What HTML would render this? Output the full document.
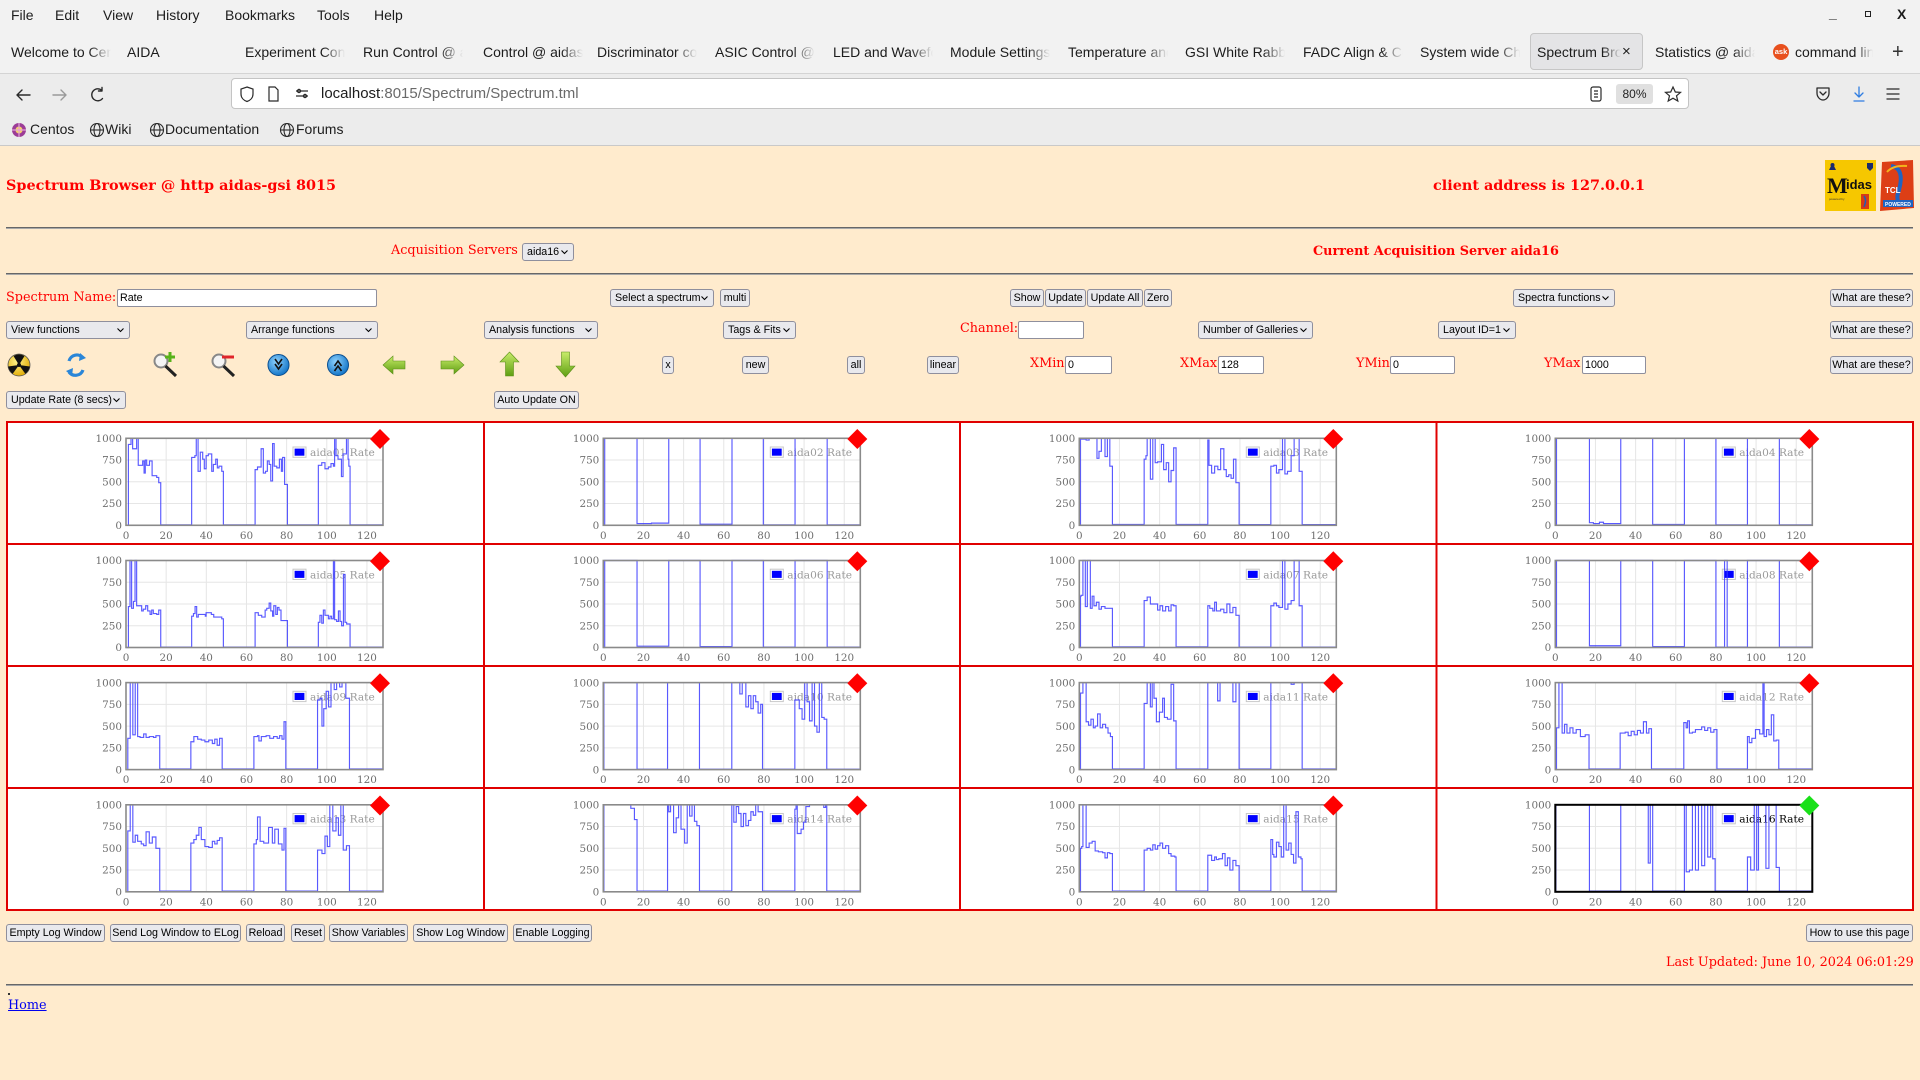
<!DOCTYPE html>
<html><head><meta charset="utf-8"><title>Spectrum Browser</title>
<style>
*{margin:0;padding:0}
html,body{width:1920px;height:1080px;overflow:hidden;background:#ffebcd}
body{position:relative;font-family:"Liberation Sans","DejaVu Sans",sans-serif}
.a{position:absolute;white-space:nowrap}
.ch{font:14px "Liberation Sans","DejaVu Sans",sans-serif;color:#1c1c1c;line-height:16px}
.tab{position:absolute;top:44px;width:100px;overflow:hidden;white-space:nowrap;font:14px "Liberation Sans",sans-serif;color:#1c1c1c;line-height:16px;-webkit-mask-image:linear-gradient(to right,#000 78%,transparent);mask-image:linear-gradient(to right,#000 78%,transparent)}
.t{position:absolute;white-space:nowrap;font:12.8px "DejaVu Serif","Liberation Serif",serif;color:#f00;line-height:16px}
.tb{font-weight:bold}
.b,.s,.i{position:absolute;box-sizing:border-box;height:18px;font:10.7px "Liberation Sans","DejaVu Sans",sans-serif;color:#000;line-height:16px;white-space:nowrap;overflow:hidden}
.b{background:#e9e9ed;border:1px solid #8f8f9d;border-radius:3px;text-align:center}
.s{background:#e9e9ed;border:1px solid #8f8f9d;border-radius:3px;text-align:left;padding-left:4px}
.s svg{position:absolute;right:5px;top:6px}
.i{background:#fff;border:1px solid #8f8f9d;border-radius:2px;padding-left:2px}
.hr{position:absolute;height:0;border-top:1px solid #676767;border-bottom:1px solid #a8a8a8}
svg text{font-family:"DejaVu Serif","Liberation Serif",serif}
.tk text{font-size:10.4px;fill:#6e6e6e;text-anchor:end}
.tx text{font-size:10.4px;fill:#6e6e6e;text-anchor:middle}
.lt{font-size:10.6px;fill:#9a9a9a}
.lb{fill:#fff;stroke:#c8c8c8;stroke-width:1}
.lf{fill:#0000ff}
.sr{fill:none;stroke:#3c3cff;stroke-opacity:.85;stroke-width:1.15;vector-effect:non-scaling-stroke}
.fr{fill:none;stroke:#8a8a8a;stroke-width:1.6}
.dm{fill:#ff0000}
</style></head><body>

<!-- ===== Browser chrome ===== -->
<div class="a" style="left:0;top:0;width:1920px;height:73px;background:#f2f2f2;border-bottom:1px solid #d4d4d4"></div>
<div class="a" style="left:0;top:74px;width:1920px;height:71px;background:#ececec;border-bottom:1px solid #c9c9c9"></div>

<div class="a ch" style="left:11px;top:7px">File</div>
<div class="a ch" style="left:55px;top:7px">Edit</div>
<div class="a ch" style="left:103px;top:7px">View</div>
<div class="a ch" style="left:156px;top:7px">History</div>
<div class="a ch" style="left:225px;top:7px">Bookmarks</div>
<div class="a ch" style="left:317px;top:7px">Tools</div>
<div class="a ch" style="left:374px;top:7px">Help</div>
<div class="a ch" style="left:1829px;top:5px;font-weight:bold">_</div>
<div class="a" style="left:1865px;top:11px;width:6px;height:6px;border:1.5px solid #222;box-sizing:border-box"></div>
<div class="a ch" style="left:1897px;top:6px;font-weight:bold">X</div>

<!-- tabs -->
<div class="a" style="left:1530px;top:33px;width:113px;height:37px;background:#e4e4e6;border:1px solid #c6c6c6;border-radius:4px;box-sizing:border-box"></div>
<div class="tab" style="left:11px">Welcome to CentOS</div>
<div class="tab" style="left:127px">AIDA</div>
<div class="tab" style="left:245px">Experiment Control</div>
<div class="tab" style="left:363px">Run Control @ aida</div>
<div class="tab" style="left:483px">Control @ aidas-gsi</div>
<div class="tab" style="left:597px">Discriminator control</div>
<div class="tab" style="left:715px">ASIC Control @ aida</div>
<div class="tab" style="left:833px">LED and Waveform</div>
<div class="tab" style="left:950px">Module Settings</div>
<div class="tab" style="left:1068px">Temperature and</div>
<div class="tab" style="left:1185px">GSI White Rabbit</div>
<div class="tab" style="left:1303px">FADC Align &amp; Control</div>
<div class="tab" style="left:1420px">System wide Checks</div>
<div class="tab" style="left:1537px;width:84px">Spectrum Browser</div>
<div class="a ch" style="left:1622px;top:44px;font-size:15px">×</div>
<div class="tab" style="left:1655px">Statistics @ aidas</div>
<div class="a" style="left:1773px;top:44px;width:16px;height:16px;border-radius:50%;background:#e8501e;color:#fff;font:bold 7.5px 'Liberation Sans',sans-serif;line-height:16px;text-align:center">ask</div>
<div class="tab" style="left:1795px;width:78px">command line</div>
<div class="a ch" style="left:1892px;top:41px;font-size:20px;line-height:22px;color:#333">+</div>

<!-- nav bar -->
<svg class="a" style="left:14px;top:86px" width="100" height="18" viewBox="0 0 100 18">
<g fill="none" stroke="#2a2a2a" stroke-width="1.4" stroke-linecap="round" stroke-linejoin="round">
<path d="M3 9H16M8 4L3 9L8 14"/>
<path d="M39 9H52M47 4L52 9L47 14" stroke="#9a9a9a"/>
<path d="M88 4.5A6 6 0 1 0 88.5 12.5M88 1.5V5H84.5"/>
</g></svg>
<div class="a" style="left:231px;top:78px;width:1458px;height:31px;background:#fff;border:1px solid #c4c4c4;border-radius:4px;box-sizing:border-box"></div>
<svg class="a" style="left:240px;top:85px" width="75" height="18" viewBox="0 0 75 18">
<g fill="none" stroke="#2a2a2a" stroke-width="1.2">
<path d="M7 2L13 4V9C13 13 10 15.5 7 16.5C4 15.5 1 13 1 9V4Z"/>
<path d="M29 2H35L38 5V16H29Z"/>
<path d="M56 6H68M56 11H68"/><circle cx="59" cy="6" r="1.6"/><circle cx="65" cy="11" r="1.6"/>
</g></svg>
<div class="a" style="left:321px;top:85px;font:15px 'Liberation Sans',sans-serif;line-height:18px;color:#1c1c1c">localhost<span style="color:#6a6a6a">:8015/Spectrum/Spectrum.tml</span></div>
<svg class="a" style="left:1589px;top:85px" width="100" height="18" viewBox="0 0 100 18">
<g fill="none" stroke="#2a2a2a" stroke-width="1.2"><rect x="2" y="2" width="10" height="14" rx="2"/><path d="M5 6H9M5 9H9M5 12H9"/>
<path d="M84 2L86.3 7L91.5 7.4L87.5 10.8L88.8 16L84 13.2L79.2 16L80.5 10.8L76.5 7.4L81.7 7Z"/></g></svg>
<div class="a" style="left:1616px;top:84px;width:37px;height:20px;background:#e0e0e0;border-radius:3px;font:12px 'Liberation Sans',sans-serif;line-height:20px;text-align:center;color:#222">80%</div>
<svg class="a" style="left:1813px;top:84px" width="95" height="20" viewBox="0 0 95 20">
<g fill="none" stroke-width="1.3" stroke-linejoin="round" stroke-linecap="round">
<path d="M4 4H16V9C16 13 13 16 10 16C7 16 4 13 4 9Z" stroke="#2a2a2a"/><path d="M7 8L10 11L13 8" stroke="#2a2a2a"/>
<path d="M46 3V13M42 9L46 13L50 9M41 17H51" stroke="#2f7de1"/>
<path d="M74 5H86M74 10H86M74 15H86" stroke="#2a2a2a"/>
</g></svg>

<!-- bookmarks -->
<svg class="a" style="left:11px;top:122px" width="16" height="16" viewBox="0 0 16 16"><circle cx="8" cy="8" r="7" fill="#9c3d97"/><circle cx="8" cy="8" r="3.5" fill="#f6d36b"/><path d="M8 1V15M1 8H15" stroke="#e2a2d8" stroke-width="1.2"/></svg>
<div class="a ch" style="left:30px;top:121px">Centos</div>
<svg class="a" style="left:89px;top:122px" width="16" height="16" viewBox="0 0 16 16"><g fill="none" stroke="#2a2a2a" stroke-width="1.1"><circle cx="8" cy="8" r="6.5"/><ellipse cx="8" cy="8" rx="3" ry="6.5"/><path d="M1.5 8H14.5"/></g></svg>
<div class="a ch" style="left:105px;top:121px">Wiki</div>
<svg class="a" style="left:149px;top:122px" width="16" height="16" viewBox="0 0 16 16"><g fill="none" stroke="#2a2a2a" stroke-width="1.1"><circle cx="8" cy="8" r="6.5"/><ellipse cx="8" cy="8" rx="3" ry="6.5"/><path d="M1.5 8H14.5"/></g></svg>
<div class="a ch" style="left:165px;top:121px">Documentation</div>
<svg class="a" style="left:279px;top:122px" width="16" height="16" viewBox="0 0 16 16"><g fill="none" stroke="#2a2a2a" stroke-width="1.1"><circle cx="8" cy="8" r="6.5"/><ellipse cx="8" cy="8" rx="3" ry="6.5"/><path d="M1.5 8H14.5"/></g></svg>
<div class="a ch" style="left:296px;top:121px">Forums</div>

<!-- ===== Page header ===== -->
<div class="t tb" style="left:6px;top:176px;font-size:14.4px;line-height:20px">Spectrum Browser @ http aidas-gsi 8015</div>
<div class="t tb" style="left:1433px;top:176px;font-size:14.4px;line-height:20px">client address is 127.0.0.1</div>

<svg class="a" style="left:1825px;top:160px" width="90" height="52" viewBox="0 0 90 52">
<rect x="0" y="0" width="51" height="51" fill="#f6c700"/>
<path d="M4 10L7.5 3L11 10Z" fill="#1b2a6b"/><circle cx="7.5" cy="5" r="2" fill="#1b2a6b"/>
<path d="M42 3H48V8L45 11L42 8Z" fill="#1b2a6b"/>
<text x="2" y="33" style="font:bold 22px 'Liberation Serif',serif;fill:#111">M</text>
<text x="21" y="29" style="font:bold 13px 'Liberation Sans',sans-serif;fill:#111">idas</text>
<text x="4" y="40" style="font:3px 'Liberation Sans',sans-serif;fill:#333">powered by</text>
<rect x="36" y="34" width="8" height="15" fill="#d83a14"/><path d="M39 36Q42 40 39 47" stroke="#1f5fb4" stroke-width="1.5" fill="none"/>
<path d="M57 2L88 0L89 48L55 51Z" fill="#dd3f16"/>
<path d="M66 6Q80 8 74 30Q70 40 76 46" stroke="#1f64c2" stroke-width="4" fill="none"/>
<path d="M62 12Q68 5 82 6" stroke="#f3b21c" stroke-width="2" fill="none"/>
<text x="60" y="33" style="font:bold 8px 'Liberation Sans',sans-serif;fill:#fff">TCL</text>
<rect x="58" y="40" width="30" height="7" fill="#1f64c2"/>
<text x="60" y="46" style="font:bold 5px 'Liberation Sans',sans-serif;fill:#fff">POWERED</text>
</svg>

<div class="hr" style="left:6px;top:227px;width:1907px"></div>

<div class="t" style="left:391px;top:243px">Acquisition Servers</div>
<div class="s" style="left:522px;top:243px;width:52px">aida16<svg width="7" height="5"><path d="M0.5 0.5L3.5 3.5L6.5 0.5" fill="none" stroke="#000" stroke-width="1.1"/></svg></div>
<div class="t tb" style="left:1313px;top:244px">Current Acquisition Server aida16</div>

<div class="hr" style="left:6px;top:273px;width:1907px"></div>

<!-- Row A -->
<div class="t" style="left:6px;top:290px">Spectrum Name:</div>
<div class="i" style="left:117px;top:289px;width:260px">Rate</div>
<div class="s" style="left:610px;top:289px;width:104px">Select a spectrum<svg width="7" height="5"><path d="M0.5 0.5L3.5 3.5L6.5 0.5" fill="none" stroke="#000" stroke-width="1.1"/></svg></div>
<div class="b" style="left:720px;top:289px;width:30px">multi</div>
<div class="b" style="left:1010px;top:289px;width:34px">Show</div>
<div class="b" style="left:1045px;top:289px;width:41px">Update</div>
<div class="b" style="left:1087px;top:289px;width:56px">Update All</div>
<div class="b" style="left:1144px;top:289px;width:28px">Zero</div>
<div class="s" style="left:1513px;top:289px;width:102px">Spectra functions<svg width="7" height="5"><path d="M0.5 0.5L3.5 3.5L6.5 0.5" fill="none" stroke="#000" stroke-width="1.1"/></svg></div>
<div class="b" style="left:1830px;top:289px;width:83px">What are these?</div>

<!-- Row B -->
<div class="s" style="left:6px;top:321px;width:124px">View functions<svg width="7" height="5"><path d="M0.5 0.5L3.5 3.5L6.5 0.5" fill="none" stroke="#000" stroke-width="1.1"/></svg></div>
<div class="s" style="left:246px;top:321px;width:132px">Arrange functions<svg width="7" height="5"><path d="M0.5 0.5L3.5 3.5L6.5 0.5" fill="none" stroke="#000" stroke-width="1.1"/></svg></div>
<div class="s" style="left:484px;top:321px;width:114px">Analysis functions<svg width="7" height="5"><path d="M0.5 0.5L3.5 3.5L6.5 0.5" fill="none" stroke="#000" stroke-width="1.1"/></svg></div>
<div class="s" style="left:723px;top:321px;width:73px">Tags &amp; Fits<svg width="7" height="5"><path d="M0.5 0.5L3.5 3.5L6.5 0.5" fill="none" stroke="#000" stroke-width="1.1"/></svg></div>
<div class="t" style="left:960px;top:321px">Channel:</div>
<div class="i" style="left:1018px;top:321px;width:66px"></div>
<div class="s" style="left:1198px;top:321px;width:115px">Number of Galleries<svg width="7" height="5"><path d="M0.5 0.5L3.5 3.5L6.5 0.5" fill="none" stroke="#000" stroke-width="1.1"/></svg></div>
<div class="s" style="left:1438px;top:321px;width:78px">Layout ID=1<svg width="7" height="5"><path d="M0.5 0.5L3.5 3.5L6.5 0.5" fill="none" stroke="#000" stroke-width="1.1"/></svg></div>
<div class="b" style="left:1830px;top:321px;width:83px">What are these?</div>

<!-- Row C icons -->
<svg class="a" style="left:0;top:350px" width="600" height="30" viewBox="0 350 600 30">
<defs>
<radialGradient id="gy" cx=".4" cy=".35" r=".7"><stop offset="0" stop-color="#fff38a"/><stop offset="1" stop-color="#e0a800"/></radialGradient>
<radialGradient id="gb" cx=".4" cy=".35" r=".7"><stop offset="0" stop-color="#8fd3ff"/><stop offset="1" stop-color="#0b6fc4"/></radialGradient>
<linearGradient id="gg" x1="0" y1="0" x2="0" y2="1"><stop offset="0" stop-color="#c8ec6a"/><stop offset="1" stop-color="#5f9e12"/></linearGradient>
</defs>
<circle cx="19" cy="365" r="11" fill="url(#gy)" stroke="#555" stroke-width=".8"/>
<g fill="#111"><circle cx="19" cy="365" r="2"/><path d="M19 365L13.5 356A11 11 0 0 1 24.5 356Z"/><path d="M19 365L29.5 368A11 11 0 0 1 24 374.5Z" transform="rotate(-8 19 365)"/><path d="M19 365L14 374.5A11 11 0 0 1 8.5 368Z" transform="rotate(8 19 365)"/></g>
<g fill="none" stroke="#2a86d8" stroke-width="3.2"><path d="M69 361A8 8 0 0 1 83 358"/><path d="M83 370A8 8 0 0 1 69 372"/></g>
<path d="M80 353L86 358L79 361Z" fill="#2a86d8"/><path d="M72 376L66 371L73 368Z" fill="#2a86d8"/>
<circle cx="161" cy="361" r="6.5" fill="#f4f4f4" stroke="#888" stroke-width="2"/><path d="M165.5 366L176 376" stroke="#222" stroke-width="3"/>
<path d="M170 352V362M165 357H175" stroke="#57b21a" stroke-width="3"/>
<circle cx="219" cy="361" r="6.5" fill="#f4f4f4" stroke="#888" stroke-width="2"/><path d="M223.5 366L234 376" stroke="#222" stroke-width="3"/>
<path d="M222 357H234" stroke="#e0242a" stroke-width="3"/>
<circle cx="278.5" cy="365" r="10.5" fill="url(#gb)" stroke="#0a4e8f" stroke-width="1"/>
<path d="M275 359L278.5 364L282 359M275 364L278.5 369L282 364" fill="none" stroke="#111" stroke-width="1.6"/>
<circle cx="338" cy="365" r="10.5" fill="url(#gb)" stroke="#0a4e8f" stroke-width="1"/>
<path d="M334.5 366L338 361L341.5 366M334.5 371L338 366L341.5 371" fill="none" stroke="#111" stroke-width="1.6"/>
<path d="M383 365L393 356V361H405V369H393V374Z" fill="url(#gg)" stroke="#5b8f1a" stroke-width=".6"/>
<path d="M464 365L454 356V361H441V369H454V374Z" fill="url(#gg)" stroke="#5b8f1a" stroke-width=".6"/>
<path d="M509.5 352L519 362H513.5V376H505.5V362H500Z" fill="url(#gg)" stroke="#5b8f1a" stroke-width=".6"/>
<path d="M565.5 377L575 366H569.5V352H561.5V366H556Z" fill="url(#gg)" stroke="#5b8f1a" stroke-width=".6"/>
</svg>
<div class="b" style="left:662px;top:356px;width:12px">x</div>
<div class="b" style="left:742px;top:356px;width:27px">new</div>
<div class="b" style="left:847px;top:356px;width:18px">all</div>
<div class="b" style="left:927px;top:356px;width:32px">linear</div>
<div class="t" style="left:1030px;top:356px">XMin</div>
<div class="i" style="left:1065px;top:356px;width:47px">0</div>
<div class="t" style="left:1180px;top:356px">XMax</div>
<div class="i" style="left:1218px;top:356px;width:46px">128</div>
<div class="t" style="left:1356px;top:356px">YMin</div>
<div class="i" style="left:1390px;top:356px;width:65px">0</div>
<div class="t" style="left:1544px;top:356px">YMax</div>
<div class="i" style="left:1582px;top:356px;width:64px">1000</div>
<div class="b" style="left:1830px;top:356px;width:83px">What are these?</div>

<!-- Row D -->
<div class="s" style="left:6px;top:391px;width:120px">Update Rate (8 secs)<svg width="7" height="5"><path d="M0.5 0.5L3.5 3.5L6.5 0.5" fill="none" stroke="#000" stroke-width="1.1"/></svg></div>
<div class="b" style="left:494px;top:391px;width:85px">Auto Update ON</div>

<!-- ===== Charts ===== -->
<svg class="a" style="left:0;top:0" width="1920" height="1080" viewBox="0 0 1920 1080">
<defs>
<clipPath id="pc"><rect x="0" y="-1" width="257" height="89"/></clipPath>
<g id="grid"><path d="M40.16 0V87M80.31 0V87M120.47 0V87M160.63 0V87M200.78 0V87M240.94 0V87M0 21.75H257M0 43.5H257M0 65.25H257" stroke="#e6e6e6" stroke-width="1" fill="none"/></g>
</defs>
<rect x="7" y="422" width="1906" height="488" fill="#fff"/>
<g fill="#e00000">
<rect x="6" y="421" width="1908" height="2"/><rect x="6" y="543" width="1908" height="2"/><rect x="6" y="665" width="1908" height="2"/><rect x="6" y="787" width="1908" height="2"/><rect x="6" y="909" width="1908" height="2"/>
<rect x="6" y="421" width="2" height="490"/><rect x="483" y="421" width="2" height="490"/><rect x="959" y="421" width="2" height="490"/><rect x="1435.5" y="421" width="2" height="490"/><rect x="1912" y="421" width="2" height="490"/>
</g>

<!-- aida01 -->
<g transform="translate(126,438.3)">
<use href="#grid"/>
<g class="tk"><text x="-4" y="3.7">1000</text><text x="-4" y="25.45">750</text><text x="-4" y="47.2">500</text><text x="-4" y="68.95">250</text><text x="-4" y="90.7">0</text></g>
<g class="tx"><text x="0" y="100.5">0</text><text x="40.16" y="100.5">20</text><text x="80.31" y="100.5">40</text><text x="120.47" y="100.5">60</text><text x="160.63" y="100.5">80</text><text x="200.78" y="100.5">100</text><text x="240.94" y="100.5">120</text></g>
<rect class="lb" x="167" y="8.7" width="13" height="10.3"/><rect class="lf" x="168.6" y="10.3" width="9.8" height="7.1"/><text class="lt" x="184" y="17.8">aida01 Rate</text>
<g clip-path="url(#pc)"><path class="sr" transform="translate(0,87) scale(2.0078,-0.087)" d="M0 0H1.2V930H2.5V1000H3.3V880H5.3V1000H6.1V690H8.3V740H9V600H9.6V750H10.3V690H11.7V740H13V570H15.3V550H16.3V490H17.3V5H32.7V780H34.3V800H35V1000H35.9V620H37V840H38.2V760H39V650H39.9V800H41V820H42.7V620H43.5V700H44.7V760H45.5V660H46.3V680H47.7V620H48.5V5H64.3V640H65.5V670H67.3V880H68.4V600H69.5V620H70.4V740H71.3V700H72.1V510H73V940H73.8V680H75.1V660H76.4V760H77.4V620H78V780H79V470H80.4V5H95.8V690H97.5V720H99.1V650H100.8V670H102.1V710H103.3V680H103.9V1000H104.6V800H105.6V760H107.3V560H108.1V820H109.8V1000H110.6V760H111V680H111.6V5H128"/></g>
<rect class="fr" x="0" y="0" width="257" height="87"/>
<path class="dm" d="M254 -9.3L264 0.7L254 10.7L244 0.7Z"/>
</g>

<!-- aida02 -->
<g transform="translate(603.3,438.3)">
<use href="#grid"/>
<g class="tk"><text x="-4" y="3.7">1000</text><text x="-4" y="25.45">750</text><text x="-4" y="47.2">500</text><text x="-4" y="68.95">250</text><text x="-4" y="90.7">0</text></g>
<g class="tx"><text x="0" y="100.5">0</text><text x="40.16" y="100.5">20</text><text x="80.31" y="100.5">40</text><text x="120.47" y="100.5">60</text><text x="160.63" y="100.5">80</text><text x="200.78" y="100.5">100</text><text x="240.94" y="100.5">120</text></g>
<rect class="lb" x="167" y="8.7" width="13" height="10.3"/><rect class="lf" x="168.6" y="10.3" width="9.8" height="7.1"/><text class="lt" x="184" y="17.8">aida02 Rate</text>
<g clip-path="url(#pc)"><path class="sr" transform="translate(0,87) scale(2.0078,-0.087)" d="M0 0H0.7V1000H16.8V20H24V25H32.6V1000H48.2V12H64.1V1000H79.7V5H95.5V1000H111.5V5H128"/></g>
<rect class="fr" x="0" y="0" width="257" height="87"/>
<path class="dm" d="M254 -9.3L264 0.7L254 10.7L244 0.7Z"/>
</g>

<!-- aida03 -->
<g transform="translate(1079.3,438.3)">
<use href="#grid"/>
<g class="tk"><text x="-4" y="3.7">1000</text><text x="-4" y="25.45">750</text><text x="-4" y="47.2">500</text><text x="-4" y="68.95">250</text><text x="-4" y="90.7">0</text></g>
<g class="tx"><text x="0" y="100.5">0</text><text x="40.16" y="100.5">20</text><text x="80.31" y="100.5">40</text><text x="120.47" y="100.5">60</text><text x="160.63" y="100.5">80</text><text x="200.78" y="100.5">100</text><text x="240.94" y="100.5">120</text></g>
<rect class="lb" x="167" y="8.7" width="13" height="10.3"/><rect class="lf" x="168.6" y="10.3" width="9.8" height="7.1"/><text class="lt" x="184" y="17.8">aida03 Rate</text>
<g clip-path="url(#pc)"><path class="sr" transform="translate(0,87) scale(2.0078,-0.087)" d="M0 0H0.6V990H3.4V980H4.9V1000H8.8V770H9.8V850H11V1000H12.8V790H14V1000H15.2V680H16.5V10H32.3V760H33.2V800H33.8V1000H35.4V530H36.6V1000H37.8V720H39V730H40.9V930H42V640H43.3V720H44.5V500H45.7V630H47V890H48.2V10H64V980H64.6V690H65.9V600H67.4V680H69V640H70.4V880H72V640H73.2V560H74.4V580H75.6V540H76.8V760H78V490H79.6V8H95.4V680H96.9V690H98.2V600H99.4V640H101.2V1000H102.4V590H103.7V620H105.5V800H107V1000H109.5V620H111V8H128"/></g>
<rect class="fr" x="0" y="0" width="257" height="87"/>
<path class="dm" d="M254 -9.3L264 0.7L254 10.7L244 0.7Z"/>
</g>

<!-- aida04 -->
<g transform="translate(1555.3,438.3)">
<use href="#grid"/>
<g class="tk"><text x="-4" y="3.7">1000</text><text x="-4" y="25.45">750</text><text x="-4" y="47.2">500</text><text x="-4" y="68.95">250</text><text x="-4" y="90.7">0</text></g>
<g class="tx"><text x="0" y="100.5">0</text><text x="40.16" y="100.5">20</text><text x="80.31" y="100.5">40</text><text x="120.47" y="100.5">60</text><text x="160.63" y="100.5">80</text><text x="200.78" y="100.5">100</text><text x="240.94" y="100.5">120</text></g>
<rect class="lb" x="167" y="8.7" width="13" height="10.3"/><rect class="lf" x="168.6" y="10.3" width="9.8" height="7.1"/><text class="lt" x="184" y="17.8">aida04 Rate</text>
<g clip-path="url(#pc)"><path class="sr" transform="translate(0,87) scale(2.0078,-0.087)" d="M0 0H0.6V1000H17V30H19V20H22V35H24V20H32.6V1000H48.5V10H64.3V1000H80V5H95.7V1000H111.6V5H128"/></g>
<rect class="fr" x="0" y="0" width="257" height="87"/>
<path class="dm" d="M254 -9.3L264 0.7L254 10.7L244 0.7Z"/>
</g>

<!-- aida05 -->
<g transform="translate(126,560.5)">
<use href="#grid"/>
<g class="tk"><text x="-4" y="3.7">1000</text><text x="-4" y="25.45">750</text><text x="-4" y="47.2">500</text><text x="-4" y="68.95">250</text><text x="-4" y="90.7">0</text></g>
<g class="tx"><text x="0" y="100.5">0</text><text x="40.16" y="100.5">20</text><text x="80.31" y="100.5">40</text><text x="120.47" y="100.5">60</text><text x="160.63" y="100.5">80</text><text x="200.78" y="100.5">100</text><text x="240.94" y="100.5">120</text></g>
<rect class="lb" x="167" y="8.7" width="13" height="10.3"/><rect class="lf" x="168.6" y="10.3" width="9.8" height="7.1"/><text class="lt" x="184" y="17.8">aida05 Rate</text>
<g clip-path="url(#pc)"><path class="sr" transform="translate(0,87) scale(2.0078,-0.087)" d="M0 0H1.2V470H2V1000H2.8V450H3.7V530H4.5V1000H5.3V480H7.8V420H8.6V440H9.8V480H10.8V420H12V380H12.8V430H13.6V390H15.3V380H16.3V430H17.3V5H32.7V360H33.6V390H34.4V470H35.2V350H36V380H39.5V360H39.9V400H42.5V380H43.7V350H47.7V330H48.5V5H64.3V400H65.9V370H67.6V350H69.3V430H70.1V450H71.3V510H72.1V420H73V360H73.6V480H74.6V380H75.4V460H76.2V430H77.2V310H80.4V5H95.8V290H96.6V370H97.5V280H98.3V430H99.1V370H100.8V330H101.6V360H102.4V330H103.3V1000H103.9V320H104.9V300H105.8V420H106.6V300H107.4V250H108.3V840H109.1V290H109.9V270H111.6V5H128"/></g>
<rect class="fr" x="0" y="0" width="257" height="87"/>
<path class="dm" d="M254 -9.3L264 0.7L254 10.7L244 0.7Z"/>
</g>

<!-- aida06 -->
<g transform="translate(603.3,560.5)">
<use href="#grid"/>
<g class="tk"><text x="-4" y="3.7">1000</text><text x="-4" y="25.45">750</text><text x="-4" y="47.2">500</text><text x="-4" y="68.95">250</text><text x="-4" y="90.7">0</text></g>
<g class="tx"><text x="0" y="100.5">0</text><text x="40.16" y="100.5">20</text><text x="80.31" y="100.5">40</text><text x="120.47" y="100.5">60</text><text x="160.63" y="100.5">80</text><text x="200.78" y="100.5">100</text><text x="240.94" y="100.5">120</text></g>
<rect class="lb" x="167" y="8.7" width="13" height="10.3"/><rect class="lf" x="168.6" y="10.3" width="9.8" height="7.1"/><text class="lt" x="184" y="17.8">aida06 Rate</text>
<g clip-path="url(#pc)"><path class="sr" transform="translate(0,87) scale(2.0078,-0.087)" d="M0 0H0.7V1000H16.8V15H32.6V1000H48.2V10H64.1V1000H79.7V5H95.5V1000H111.5V5H128"/></g>
<rect class="fr" x="0" y="0" width="257" height="87"/>
<path class="dm" d="M254 -9.3L264 0.7L254 10.7L244 0.7Z"/>
</g>

<!-- aida07 -->
<g transform="translate(1079.3,560.5)">
<use href="#grid"/>
<g class="tk"><text x="-4" y="3.7">1000</text><text x="-4" y="25.45">750</text><text x="-4" y="47.2">500</text><text x="-4" y="68.95">250</text><text x="-4" y="90.7">0</text></g>
<g class="tx"><text x="0" y="100.5">0</text><text x="40.16" y="100.5">20</text><text x="80.31" y="100.5">40</text><text x="120.47" y="100.5">60</text><text x="160.63" y="100.5">80</text><text x="200.78" y="100.5">100</text><text x="240.94" y="100.5">120</text></g>
<rect class="lb" x="167" y="8.7" width="13" height="10.3"/><rect class="lf" x="168.6" y="10.3" width="9.8" height="7.1"/><text class="lt" x="184" y="17.8">aida07 Rate</text>
<g clip-path="url(#pc)"><path class="sr" transform="translate(0,87) scale(2.0078,-0.087)" d="M0 0H0.6V590H0.9V600H1.8V1000H3V470H4V1000H5.5V450H6.4V590H7.3V480H8.5V520H9.8V440H11V470H12.8V450H16.5V8H32.3V540H33.8V580H35.4V500H39V430H40.2V480H41.5V420H43V470H44.5V420H45.7V490H47V480H48.2V8H64V480H65V450H66.5V420H67.4V520H68.3V420H70.4V440H72V400H73.5V500H75V400H76.5V460H78V370H79.6V5H95.4V480H96.9V510H98.2V480H99.4V460H101.2V1000H102.4V440H103.9V500H105.5V540H107V1000H109.5V480H111V5H128"/></g>
<rect class="fr" x="0" y="0" width="257" height="87"/>
<path class="dm" d="M254 -9.3L264 0.7L254 10.7L244 0.7Z"/>
</g>

<!-- aida08 -->
<g transform="translate(1555.3,560.5)">
<use href="#grid"/>
<g class="tk"><text x="-4" y="3.7">1000</text><text x="-4" y="25.45">750</text><text x="-4" y="47.2">500</text><text x="-4" y="68.95">250</text><text x="-4" y="90.7">0</text></g>
<g class="tx"><text x="0" y="100.5">0</text><text x="40.16" y="100.5">20</text><text x="80.31" y="100.5">40</text><text x="120.47" y="100.5">60</text><text x="160.63" y="100.5">80</text><text x="200.78" y="100.5">100</text><text x="240.94" y="100.5">120</text></g>
<rect class="lb" x="167" y="8.7" width="13" height="10.3"/><rect class="lf" x="168.6" y="10.3" width="9.8" height="7.1"/><text class="lt" x="184" y="17.8">aida08 Rate</text>
<g clip-path="url(#pc)"><path class="sr" transform="translate(0,87) scale(2.0078,-0.087)" d="M0 0H0.6V1000H17V20H32.6V1000H48.5V10H64.3V1000H80V5H84.3V1000H85.6V5H95.7V1000H111.6V5H128"/></g>
<rect class="fr" x="0" y="0" width="257" height="87"/>
<path class="dm" d="M254 -9.3L264 0.7L254 10.7L244 0.7Z"/>
</g>

<!-- aida09 -->
<g transform="translate(126,682.6)">
<use href="#grid"/>
<g class="tk"><text x="-4" y="3.7">1000</text><text x="-4" y="25.45">750</text><text x="-4" y="47.2">500</text><text x="-4" y="68.95">250</text><text x="-4" y="90.7">0</text></g>
<g class="tx"><text x="0" y="100.5">0</text><text x="40.16" y="100.5">20</text><text x="80.31" y="100.5">40</text><text x="120.47" y="100.5">60</text><text x="160.63" y="100.5">80</text><text x="200.78" y="100.5">100</text><text x="240.94" y="100.5">120</text></g>
<rect class="lb" x="167" y="8.7" width="13" height="10.3"/><rect class="lf" x="168.6" y="10.3" width="9.8" height="7.1"/><text class="lt" x="184" y="17.8">aida09 Rate</text>
<g clip-path="url(#pc)"><path class="sr" transform="translate(0,87) scale(2.0078,-0.087)" d="M0 0H0.9V360H2.1V1000H3.4V400H4.6V1000H5.8V380H7V370H8.8V410H10V370H11.6V380H13.7V370H14.9V390H16.8V8H32.3V320H33.8V380H35.7V350H37.5V340H39.3V320H41.2V340H43V300H44.2V350H45.4V280H46.6V360H47.9V8H63.7V380H65.5V390H66.2V330H67.4V380H69.8V390H71.6V360H73.5V380H75.3V360H76.5V390H77.7V350H78.7V550H79.6V8H95.4V800H96.6V820H97.6V500H98.5V700H99.7V900H100.9V720H102.1V1000H103.7V920H104.9V1000H106.4V950H107.6V1000H109.5V820H111.3V8H128"/></g>
<rect class="fr" x="0" y="0" width="257" height="87"/>
<path class="dm" d="M254 -9.3L264 0.7L254 10.7L244 0.7Z"/>
</g>

<!-- aida10 -->
<g transform="translate(603.3,682.6)">
<use href="#grid"/>
<g class="tk"><text x="-4" y="3.7">1000</text><text x="-4" y="25.45">750</text><text x="-4" y="47.2">500</text><text x="-4" y="68.95">250</text><text x="-4" y="90.7">0</text></g>
<g class="tx"><text x="0" y="100.5">0</text><text x="40.16" y="100.5">20</text><text x="80.31" y="100.5">40</text><text x="120.47" y="100.5">60</text><text x="160.63" y="100.5">80</text><text x="200.78" y="100.5">100</text><text x="240.94" y="100.5">120</text></g>
<rect class="lb" x="167" y="8.7" width="13" height="10.3"/><rect class="lf" x="168.6" y="10.3" width="9.8" height="7.1"/><text class="lt" x="184" y="17.8">aida10 Rate</text>
<g clip-path="url(#pc)"><path class="sr" transform="translate(0,87) scale(2.0078,-0.087)" d="M0 0H0.3V1000H16.8V5H32V1000H47.9V5H64V1000H68V870H69.2V1000H71V720H72.3V850H73.5V700H74.7V850H75.9V780H77.1V650H78.4V750H79.3V5H95.4V800H97.6V700H99V580H100.3V1000H101.5V780H102.7V560H104V1000H105.2V500H106.4V430H107.6V1000H108.8V600H110V580H111.3V5H128"/></g>
<rect class="fr" x="0" y="0" width="257" height="87"/>
<path class="dm" d="M254 -9.3L264 0.7L254 10.7L244 0.7Z"/>
</g>

<!-- aida11 -->
<g transform="translate(1079.3,682.6)">
<use href="#grid"/>
<g class="tk"><text x="-4" y="3.7">1000</text><text x="-4" y="25.45">750</text><text x="-4" y="47.2">500</text><text x="-4" y="68.95">250</text><text x="-4" y="90.7">0</text></g>
<g class="tx"><text x="0" y="100.5">0</text><text x="40.16" y="100.5">20</text><text x="80.31" y="100.5">40</text><text x="120.47" y="100.5">60</text><text x="160.63" y="100.5">80</text><text x="200.78" y="100.5">100</text><text x="240.94" y="100.5">120</text></g>
<rect class="lb" x="167" y="8.7" width="13" height="10.3"/><rect class="lf" x="168.6" y="10.3" width="9.8" height="7.1"/><text class="lt" x="184" y="17.8">aida11 Rate</text>
<g clip-path="url(#pc)"><path class="sr" transform="translate(0,87) scale(2.0078,-0.087)" d="M0 0H0.6V880H1.8V1000H3.4V550H4.6V510H5.8V580H7V480H7.9V500H9.1V640H10.4V480H11.6V520H13.1V480H14.3V420H15.5V380H16.5V8H32.3V760H33.8V1000H35.4V720H36.3V1000H37.2V820H38.4V550H39.9V660H41.5V820H42.4V600H43.9V580H45.7V980H47V560H48.2V8H64V1000H68.9V790H70.1V1000H76.5V780H78V1000H79.6V8H95.4V1000H105.5V980H107V1000H111V8H128"/></g>
<rect class="fr" x="0" y="0" width="257" height="87"/>
<path class="dm" d="M254 -9.3L264 0.7L254 10.7L244 0.7Z"/>
</g>

<!-- aida12 -->
<g transform="translate(1555.3,682.6)">
<use href="#grid"/>
<g class="tk"><text x="-4" y="3.7">1000</text><text x="-4" y="25.45">750</text><text x="-4" y="47.2">500</text><text x="-4" y="68.95">250</text><text x="-4" y="90.7">0</text></g>
<g class="tx"><text x="0" y="100.5">0</text><text x="40.16" y="100.5">20</text><text x="80.31" y="100.5">40</text><text x="120.47" y="100.5">60</text><text x="160.63" y="100.5">80</text><text x="200.78" y="100.5">100</text><text x="240.94" y="100.5">120</text></g>
<rect class="lb" x="167" y="8.7" width="13" height="10.3"/><rect class="lf" x="168.6" y="10.3" width="9.8" height="7.1"/><text class="lt" x="184" y="17.8">aida12 Rate</text>
<g clip-path="url(#pc)"><path class="sr" transform="translate(0,87) scale(2.0078,-0.087)" d="M0 0H0.6V480H1.8V1000H3.4V420H4.6V520H5.8V420H7.3V480H8.8V420H10.4V460H12.5V380H14.9V400H16.8V8H32.3V420H34.8V430H36.3V390H37.8V440H39.3V400H40.9V450H42.4V420H43.9V550H45.4V420H46.6V470H47.9V8H64V540H65.2V480H65.9V560H66.8V420H68.3V430H69.8V460H72.9V490H74.4V450H75.9V480H77.4V430H79V460H80.5V8H95.7V380H96.6V310H97.9V360H99.7V460H101.8V410H103.4V1000H104V380H105.2V460H106.4V400H107.6V630H108.8V330H110V340H111.3V8H128"/></g>
<rect class="fr" x="0" y="0" width="257" height="87"/>
<path class="dm" d="M254 -9.3L264 0.7L254 10.7L244 0.7Z"/>
</g>

<!-- aida13 -->
<g transform="translate(126,804.8)">
<use href="#grid"/>
<g class="tk"><text x="-4" y="3.7">1000</text><text x="-4" y="25.45">750</text><text x="-4" y="47.2">500</text><text x="-4" y="68.95">250</text><text x="-4" y="90.7">0</text></g>
<g class="tx"><text x="0" y="100.5">0</text><text x="40.16" y="100.5">20</text><text x="80.31" y="100.5">40</text><text x="120.47" y="100.5">60</text><text x="160.63" y="100.5">80</text><text x="200.78" y="100.5">100</text><text x="240.94" y="100.5">120</text></g>
<rect class="lb" x="167" y="8.7" width="13" height="10.3"/><rect class="lf" x="168.6" y="10.3" width="9.8" height="7.1"/><text class="lt" x="184" y="17.8">aida13 Rate</text>
<g clip-path="url(#pc)"><path class="sr" transform="translate(0,87) scale(2.0078,-0.087)" d="M0 0H0.9V700H2.1V1000H3.4V570H4.6V650H5.8V580H7.6V550H8.8V530H10V690H11.6V560H13.1V630H14.9V500H16.8V8H32.3V560H33.8V600H35V650H36.3V740H37.5V600H39.3V520H41.2V510H43V580H44.2V550H45.4V590H46.6V620H47.9V8H63.7V550H64.9V600H65.5V860H66.8V580H68.6V560H71V740H72.9V560H74.1V720H75.9V550H77.7V480H78.7V730H79.6V8H95.4V480H97.6V440H99.1V640H100.3V520H101.5V1000H103V700H104.6V850H105.8V650H107V1000H108.2V480H109.8V530H111.3V8H128"/></g>
<rect class="fr" x="0" y="0" width="257" height="87"/>
<path class="dm" d="M254 -9.3L264 0.7L254 10.7L244 0.7Z"/>
</g>

<!-- aida14 -->
<g transform="translate(603.3,804.8)">
<use href="#grid"/>
<g class="tk"><text x="-4" y="3.7">1000</text><text x="-4" y="25.45">750</text><text x="-4" y="47.2">500</text><text x="-4" y="68.95">250</text><text x="-4" y="90.7">0</text></g>
<g class="tx"><text x="0" y="100.5">0</text><text x="40.16" y="100.5">20</text><text x="80.31" y="100.5">40</text><text x="120.47" y="100.5">60</text><text x="160.63" y="100.5">80</text><text x="200.78" y="100.5">100</text><text x="240.94" y="100.5">120</text></g>
<rect class="lb" x="167" y="8.7" width="13" height="10.3"/><rect class="lf" x="168.6" y="10.3" width="9.8" height="7.1"/><text class="lt" x="184" y="17.8">aida14 Rate</text>
<g clip-path="url(#pc)"><path class="sr" transform="translate(0,87) scale(2.0078,-0.087)" d="M0 0H0.3V1000H13.7V960H15.5V830H16.8V8H32V1000H32.6V920H33.5V1000H35V680H36.3V850H37.5V1000H38.7V720H40.5V560H41.8V1000H43V870H44.2V1000H45.4V810H46.6V760H47.9V8H64V1000H65V800H66.2V980H67.4V900H68.6V750H69.8V900H71V760H72.3V820H73.5V920H74.7V880H75.9V1000H77.1V920H79.3V8H95.4V950H96V1000H96.6V670H98.5V720H99.7V800H100.9V980H102.7V1000H109.8V970H110.7V1000H111.3V8H128"/></g>
<rect class="fr" x="0" y="0" width="257" height="87"/>
<path class="dm" d="M254 -9.3L264 0.7L254 10.7L244 0.7Z"/>
</g>

<!-- aida15 -->
<g transform="translate(1079.3,804.8)">
<use href="#grid"/>
<g class="tk"><text x="-4" y="3.7">1000</text><text x="-4" y="25.45">750</text><text x="-4" y="47.2">500</text><text x="-4" y="68.95">250</text><text x="-4" y="90.7">0</text></g>
<g class="tx"><text x="0" y="100.5">0</text><text x="40.16" y="100.5">20</text><text x="80.31" y="100.5">40</text><text x="120.47" y="100.5">60</text><text x="160.63" y="100.5">80</text><text x="200.78" y="100.5">100</text><text x="240.94" y="100.5">120</text></g>
<rect class="lb" x="167" y="8.7" width="13" height="10.3"/><rect class="lf" x="168.6" y="10.3" width="9.8" height="7.1"/><text class="lt" x="184" y="17.8">aida15 Rate</text>
<g clip-path="url(#pc)"><path class="sr" transform="translate(0,87) scale(2.0078,-0.087)" d="M0 0H0.6V500H1.2V520H1.8V1000H3.4V510H4.9V560H6.4V580H7.9V470H9.5V460H11.6V450H12.8V390H14V450H15.2V440H16.5V8H32.3V480H33.8V500H35.4V480H36.6V540H37.8V490H39V530H40.2V560H41.5V500H43V530H44.5V440H45.7V410H47.6V400H48.2V8H64V420H65.9V360H67.4V400H68.3V370H69.5V380H71.3V440H72.6V300H73.8V390H75V250H76.5V360H78V300H79.6V8H95.4V600H96.3V430H96.9V400H98.2V570H99.4V520H100.6V400H101.8V1000H103V480H104.3V560H105.5V430H106.7V330H107.9V920H109.1V400H110.4V380H111V8H128"/></g>
<rect class="fr" x="0" y="0" width="257" height="87"/>
<path class="dm" d="M254 -9.3L264 0.7L254 10.7L244 0.7Z"/>
</g>

<!-- aida16 (selected) -->
<g transform="translate(1555.3,804.8)">
<use href="#grid"/>
<g class="tk"><text x="-4" y="3.7">1000</text><text x="-4" y="25.45">750</text><text x="-4" y="47.2">500</text><text x="-4" y="68.95">250</text><text x="-4" y="90.7">0</text></g>
<g class="tx"><text x="0" y="100.5">0</text><text x="40.16" y="100.5">20</text><text x="80.31" y="100.5">40</text><text x="120.47" y="100.5">60</text><text x="160.63" y="100.5">80</text><text x="200.78" y="100.5">100</text><text x="240.94" y="100.5">120</text></g>
<rect class="lb" x="167" y="8.7" width="13" height="10.3"/><rect class="lf" x="168.6" y="10.3" width="9.8" height="7.1"/><text class="lt" x="184" y="17.8" style="fill:#000">aida16 Rate</text>
<g clip-path="url(#pc)"><path class="sr" transform="translate(0,87) scale(2.0078,-0.087)" d="M0 0H0.3V1000H17V8H32.6V1000H46.3V330H47.3V1000H48.5V8H64.3V1000H65.2V230H66.8V250H68.3V1000H69.8V250H71.3V1000H72.9V300H74.4V1000H75.9V400H77.4V1000H78.4V380H79.6V8H95.7V400H97.3V250H99.1V1000H100.3V250H101.2V1000H104.9V270H106.4V1000H110V280H111.6V8H128"/></g>
<rect x="0" y="0" width="257" height="87" fill="none" stroke="#000" stroke-width="2"/>
<path d="M254 -9.3L264 0.7L254 10.7L244 0.7Z" fill="#19e019"/>
</g>
</svg>

<!-- ===== Footer ===== -->
<div class="b" style="left:6px;top:924px;width:99px">Empty Log Window</div>
<div class="b" style="left:110px;top:924px;width:131px">Send Log Window to ELog</div>
<div class="b" style="left:246px;top:924px;width:39px">Reload</div>
<div class="b" style="left:291px;top:924px;width:34px">Reset</div>
<div class="b" style="left:329px;top:924px;width:79px">Show Variables</div>
<div class="b" style="left:413px;top:924px;width:95px">Show Log Window</div>
<div class="b" style="left:513px;top:924px;width:79px">Enable Logging</div>
<div class="b" style="left:1806px;top:924px;width:107px">How to use this page</div>

<div class="t" style="left:1666px;top:955px">Last Updated: June 10, 2024 06:01:29</div>

<div class="hr" style="left:6px;top:984px;width:1907px"></div>
<div class="a" style="left:8px;top:993px;width:1.5px;height:1.5px;background:#333"></div>
<div class="t" style="left:8px;top:998px;color:#0000ee;text-decoration:underline">Home</div>

</body></html>
